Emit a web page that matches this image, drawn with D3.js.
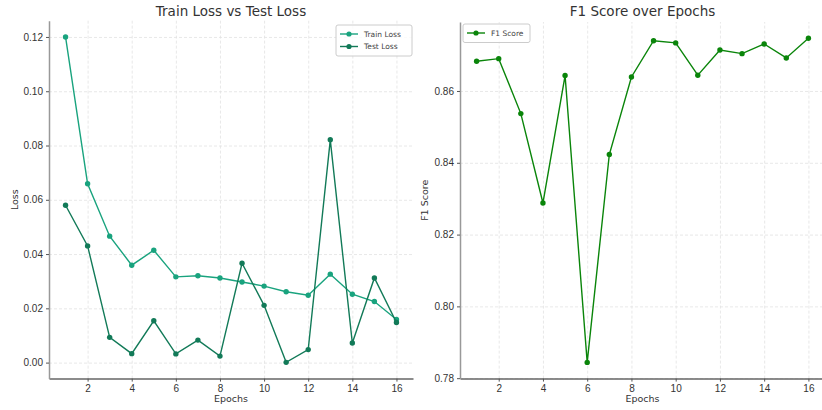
<!DOCTYPE html>
<meta charset="utf-8">
<style>
body { margin: 0; background: #fff; }
svg { display: block; font-family: "DejaVu Sans", sans-serif; }
.grid line { stroke: #e2e2e2; stroke-dasharray: 3,2; stroke-width: 0.8px; }
.grid path { display: none; }
.axis text { font-size: 10px; fill: #333; }
.axis line { stroke: #555; }
.axis path { stroke-width: 1.5px; }
.x.axis path { stroke: #666; }
.y.axis path { stroke: #999; }
.title { font-size: 13.5px; fill: #333; text-anchor: middle; }
.label { font-size: 9.5px; fill: #333; text-anchor: middle; }
.legend rect { fill: #fff; fill-opacity: 0.8; stroke: #ccc; }
.legend text { font-size: 7.5px; fill: #444; }
</style>
<svg width="822" height="410"></svg>
<script src="https://d3js.org/d3.v7.min.js"></script>
<script>
var epochs = [1, 2, 3, 4, 5, 6, 7, 8, 9, 10, 11, 12, 13, 14, 15, 16];
var trainLoss = [0.1200, 0.0659, 0.0466, 0.0359, 0.0414, 0.0316, 0.0320, 0.0312,
                 0.0297, 0.0282, 0.0261, 0.0248, 0.0326, 0.0252, 0.0225, 0.0159];
var testLoss = [0.0580, 0.0430, 0.0093, 0.0033, 0.0154, 0.0032, 0.0083, 0.0024,
                0.0366, 0.0211, 0.0001, 0.0048, 0.0821, 0.0072, 0.0312, 0.0148];
var f1Score = [0.8683, 0.8690, 0.8537, 0.8288, 0.8643, 0.7844, 0.8423, 0.8639,
               0.8740, 0.8734, 0.8644, 0.8714, 0.8704, 0.8731, 0.8692, 0.8747];
var xTicks = [2, 4, 6, 8, 10, 12, 14, 16];
var lossTicks = [0, 0.02, 0.04, 0.06, 0.08, 0.10, 0.12];
var f1Ticks = [0.78, 0.80, 0.82, 0.84, 0.86];

var svg = d3.select("svg");

function pad(ext) {
    var m = (ext[1] - ext[0]) * 0.05;
    return [ext[0] - m, ext[1] + m];
}

function panel(opt) {
    var g = svg.append("g");
    var x = d3.scaleLinear().domain(pad(d3.extent(epochs))).range([opt.left, opt.right]);
    var all = [].concat.apply([], opt.series.map(function(s) { return s.values; }));
    var y = d3.scaleLinear().domain(pad(d3.extent(all))).range([opt.bottom, opt.top]);

    g.append("g").attr("class", "grid")
        .attr("transform", "translate(0," + opt.bottom + ")")
        .call(d3.axisBottom(x).tickValues(xTicks).tickSize(-(opt.bottom - opt.top)).tickFormat(""));
    g.append("g").attr("class", "grid")
        .attr("transform", "translate(" + opt.left + ",0)")
        .call(d3.axisLeft(y).tickValues(opt.yTicks).tickSize(-(opt.right - opt.left)).tickFormat(""));

    var line = d3.line()
        .x(function(d, i) { return x(epochs[i]); })
        .y(function(d) { return y(d); });

    opt.series.forEach(function(s) {
        g.append("path").datum(s.values)
            .attr("d", line)
            .attr("fill", "none")
            .attr("stroke", s.color)
            .attr("stroke-width", 1.4);
        g.selectAll(null).data(s.values).enter().append("circle")
            .attr("cx", function(d, i) { return x(epochs[i]); })
            .attr("cy", function(d) { return y(d); })
            .attr("r", 2.7)
            .attr("fill", s.color);
    });

    g.append("g").attr("class", "x axis")
        .attr("transform", "translate(0," + opt.bottom + ")")
        .call(d3.axisBottom(x).tickValues(xTicks).tickSize(3).tickSizeOuter(0).tickPadding(3));
    g.append("g").attr("class", "y axis")
        .attr("transform", "translate(" + opt.left + ",0)")
        .call(d3.axisLeft(y).tickValues(opt.yTicks).tickSize(3).tickSizeOuter(0).tickPadding(3)
            .tickFormat(d3.format(".2f")));

    g.append("text").attr("class", "title")
        .attr("x", (opt.left + opt.right) / 2).attr("y", 16).text(opt.title);
    g.append("text").attr("class", "label")
        .attr("x", (opt.left + opt.right) / 2).attr("y", 402).text("Epochs");
    g.append("text").attr("class", "label")
        .attr("transform", "translate(" + opt.ylabX + "," + (opt.top + opt.bottom) / 2 + ") rotate(-90)")
        .text(opt.ylabel);

    var lg = g.append("g").attr("class", "legend")
        .attr("transform", "translate(" + opt.legX + "," + opt.legY + ")");
    lg.append("rect").attr("width", opt.legW).attr("height", 6 + opt.series.length * 12.5)
        .attr("rx", 2);
    opt.series.forEach(function(s, i) {
        var yy = 9 + i * 12.5;
        lg.append("line").attr("x1", 4).attr("x2", 22).attr("y1", yy).attr("y2", yy)
            .attr("stroke", s.color).attr("stroke-width", 1.4);
        lg.append("circle").attr("cx", 13).attr("cy", yy).attr("r", 2.6).attr("fill", s.color);
        lg.append("text").attr("x", 28).attr("y", yy + 2.8).text(s.name);
    });
}

panel({
    left: 49, right: 413, top: 20.7, bottom: 378.6,
    title: "Train Loss vs Test Loss", ylabel: "Loss", ylabX: 18,
    yTicks: lossTicks,
    legX: 336, legY: 25, legW: 76,
    series: [
        { name: "Train Loss", values: trainLoss, color: "#19a37e" },
        { name: "Test Loss", values: testLoss, color: "#127a58" }
    ]
});

panel({
    left: 460, right: 825, top: 22, bottom: 378.6,
    title: "F1 Score over Epochs", ylabel: "F1 Score", ylabX: 428,
    yTicks: f1Ticks,
    legX: 463, legY: 24, legW: 67,
    series: [
        { name: "F1 Score", values: f1Score, color: "#0a850a" }
    ]
});
</script>
